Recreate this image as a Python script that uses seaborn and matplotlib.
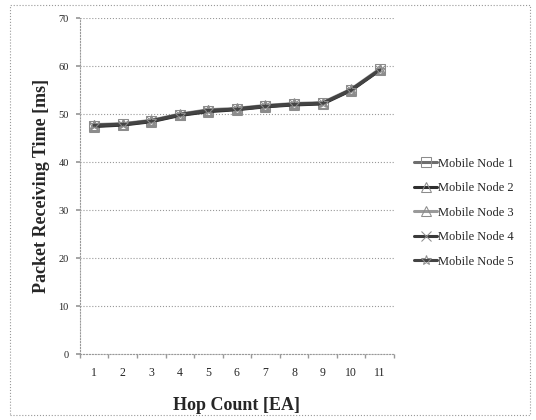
import matplotlib
matplotlib.use("Agg")
import matplotlib.pyplot as plt
import seaborn as sns
import pandas as pd
from matplotlib.patches import Rectangle

hop_count = [1, 2, 3, 4, 5, 6, 7, 8, 9, 10, 11]
node_names = ["Mobile Node 1", "Mobile Node 2", "Mobile Node 3", "Mobile Node 4", "Mobile Node 5"]
node1 = [47.6, 47.9, 48.6, 49.9, 50.7, 51.0, 51.6, 52.0, 52.3, 55.0, 59.3]
node2 = [47.4, 47.7, 48.4, 49.7, 50.5, 50.9, 51.5, 51.9, 52.1, 54.9, 59.1]
node3 = [47.8, 48.0, 48.7, 50.0, 50.9, 51.2, 51.8, 52.2, 52.4, 55.2, 59.4]
node4 = [47.5, 47.8, 48.5, 49.8, 50.6, 51.1, 51.7, 52.1, 52.2, 55.1, 59.2]
node5 = [47.7, 47.9, 48.6, 49.9, 50.8, 51.0, 51.6, 52.0, 52.3, 55.0, 59.2]
y_ticks = [0, 10, 20, 30, 40, 50, 60, 70]

sns.set_theme(style="white")
plt.rcParams["font.family"] = ["Liberation Serif", "DejaVu Serif"]

fig = plt.figure(figsize=(5.36, 4.2), dpi=100)
ax = fig.add_axes([0.149, 0.157, 0.586, 0.80])

colors = ["#6e6e6e", "#2e2e2e", "#9a9a9a", "#3a3a3a", "#444444"]
markers = ["s", "^", "^", "x", "*"]
for name, vals, c, m in zip(node_names, [node1, node2, node3, node4, node5], colors, markers):
    d = pd.DataFrame({"Hop": hop_count, "Time": vals})
    sns.lineplot(data=d, x="Hop", y="Time", color=c, marker=m, markersize=7,
                 markerfacecolor="none", markeredgecolor="#8c8c8c", linewidth=2.2,
                 label=name, ax=ax)

ax.set_xlim(0.5, 11.5)
ax.set_ylim(0, 70)
ax.set_xticks(hop_count)
ax.set_xticklabels([str(h) for h in hop_count], fontsize=8.5)
ax.set_xticks([h - 0.5 for h in hop_count] + [11.5], minor=True)
ax.set_yticks(y_ticks)
ax.set_yticklabels([str(t) for t in y_ticks], fontsize=7.5)
ax.tick_params(axis="x", which="major", length=0, pad=9)
ax.tick_params(axis="x", which="minor", length=3, color="#999999", direction="out", bottom=True)
ax.tick_params(axis="y", length=3, color="#999999", direction="out", left=True, pad=5)
ax.grid(axis="y", color="#999999", linestyle=":", linewidth=0.8)
for s in ["top", "right"]:
    ax.spines[s].set_visible(False)
for s in ["left", "bottom"]:
    ax.spines[s].set_color("#999999")
    ax.spines[s].set_linestyle(":")
    ax.spines[s].set_linewidth(0.8)

ax.set_xlabel("Hop Count [EA]", fontsize=13, fontweight="bold", labelpad=13)
ax.set_ylabel("Packet Receiving Time [ms]", fontsize=13, fontweight="bold", labelpad=6)

handles, labels = ax.get_legend_handles_labels()
ax.legend(handles, labels, loc="center left", bbox_to_anchor=(0.752, 0.494),
          bbox_transform=fig.transFigure, frameon=False, fontsize=9,
          handlelength=1.8, handletextpad=0.1, labelspacing=1.0)

fig.patches.append(Rectangle((0.018, 0.012), 0.97, 0.976, transform=fig.transFigure,
                             fill=False, edgecolor="#999999", linestyle=":", linewidth=0.8))

plt.savefig("out.png", dpi=100)
